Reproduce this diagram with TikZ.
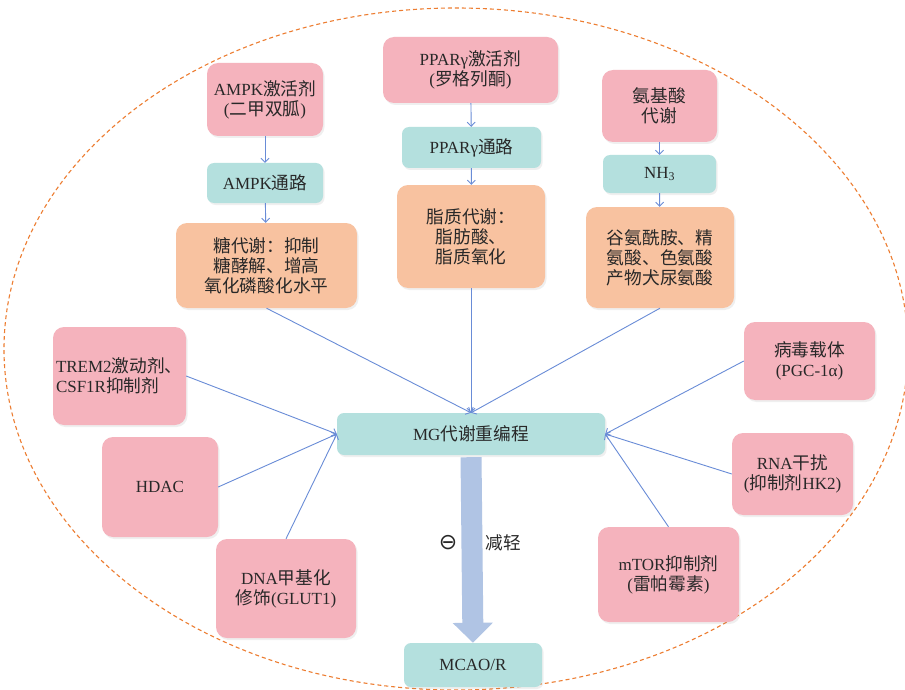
\documentclass[tikz,border=0pt]{standalone}
\usepackage{fontspec}
\setmainfont{Liberation Serif}
\newfontfamily\cjk[Scale=1.04]{Noto Sans CJK SC}
\newfontfamily\symf{DejaVu Sans}
\newcommand{\zh}[1]{{\cjk #1}}
\usetikzlibrary{arrows.meta,shadows}
\definecolor{pinkbox}{RGB}{245,179,189}
\definecolor{tealbox}{RGB}{180,224,222}
\definecolor{orangebox}{RGB}{248,194,160}
\definecolor{linkblue}{RGB}{105,140,215}
\definecolor{bigarrow}{RGB}{176,196,228}
\definecolor{ellorange}{RGB}{237,125,49}
\definecolor{txt}{RGB}{40,40,40}
\tikzset{
  box/.style={rounded corners=11pt, inner sep=2pt, align=center, text=txt,
    font=\fontsize{17}{20}\selectfont,
    drop shadow={opacity=0.12, shadow xshift=1.5pt, shadow yshift=-2pt}},
  pbox/.style={box, fill=pinkbox},
  tbox/.style={box, fill=tealbox, rounded corners=7pt},
  obox/.style={box, fill=orangebox},
  link/.style={draw=linkblue, line width=0.9pt, -{Straight Barb[length=4pt,width=8pt]}},
}
\begin{document}
\begin{tikzpicture}[x=1pt,y=-1pt]
\useasboundingbox (0,0) rectangle (905,690);
\fill[white] (0,0) rectangle (905,690);
\draw[ellorange, line width=1.1pt, dash pattern=on 4pt off 3pt] (456,349) ellipse [x radius=452pt, y radius=341pt];

% top column nodes
\node[pbox, minimum width=116pt, minimum height=73pt] (ampk) at (265,99.5) {AMPK\zh{激活剂}\\(\zh{二甲双胍})};
\node[tbox, minimum width=116pt, minimum height=40pt] (ampkp) at (265,183) {AMPK\zh{通路}};
\node[obox, minimum width=181pt, minimum height=85pt] (tang) at (266.5,265.5) {\zh{糖代谢：抑制}\\\zh{糖酵解、增高}\\\zh{氧化磷酸化水平}};

\node[pbox, minimum width=175pt, minimum height=66pt] (ppar) at (470.5,70) {PPARγ\zh{激活剂}\\(\zh{罗格列酮})};
\node[tbox, minimum width=139pt, minimum height=41pt] (pparp) at (471.5,147.5) {PPARγ\zh{通路}};
\node[obox, minimum width=148pt, minimum height=103pt] (zhi) at (471,236.5) {\zh{脂质代谢：}\\\zh{脂肪酸、}\\\zh{脂质氧化}};

\node[pbox, minimum width=115pt, minimum height=72pt] (anji) at (659.5,106) {\zh{氨基酸}\\\zh{代谢}};
\node[tbox, minimum width=113pt, minimum height=38pt] (nh3) at (659.5,174) {NH\textsubscript{3}};
\node[obox, minimum width=148pt, minimum height=101pt] (gu) at (660,257.5) {\zh{谷氨酰胺、精}\\\zh{氨酸、色氨酸}\\\zh{产物犬尿氨酸}};

% side nodes
\node[pbox, minimum width=133pt, minimum height=98pt, align=left, text width=127pt] (trem) at (119.5,376) {TREM2\zh{激动剂、}\\CSF1R\zh{抑制剂}};
\node[pbox, minimum width=116pt, minimum height=100pt] (hdac) at (160,487) {HDAC};
\node[pbox, minimum width=140pt, minimum height=99pt] (dna) at (286,588.5) {DNA\zh{甲基化}\\\zh{修饰}(GLUT1)};

\node[pbox, minimum width=131pt, minimum height=78pt] (bing) at (809.5,361) {\zh{病毒载体}\\(PGC-1α)};
\node[pbox, minimum width=121pt, minimum height=82pt] (rna) at (792.5,474) {RNA\zh{干扰}\\(\zh{抑制剂}HK2)};
\node[pbox, minimum width=141pt, minimum height=95pt] (mtor) at (668.5,574.5) {mTOR\zh{抑制剂}\\(\zh{雷帕霉素})};

% center
\node[tbox, minimum width=268pt, minimum height=42pt] (mg) at (471,434) {MG\zh{代谢重编程}};
\node[tbox, minimum width=138pt, minimum height=44pt] (mcao) at (473,665) {MCAO/R};

% vertical links
\draw[link] (ampk) -- (ampkp);
\draw[link] (ampkp) -- (tang);
\draw[link] (ppar) -- (pparp);
\draw[link] (pparp) -- (zhi);
\draw[link] (anji) -- (nh3);
\draw[link] (nh3) -- (gu);

% links to MG
\draw[link] (tang.south) -- (mg.north);
\draw[link] (zhi.south) -- (mg.north);
\draw[link] (gu.south) -- (mg.north);
\draw[link] (trem.east) -- (mg.west);
\draw[link] (hdac.east) -- (mg.west);
\draw[link] (dna.north) -- (mg.west);
\draw[link] (bing.west) -- (mg.east);
\draw[link] (rna.west) -- (mg.east);
\draw[link] (mtor.north) -- (mg.east);

% big arrow
\draw[bigarrow, line width=21pt, shorten <=2pt, -{Triangle[length=20pt,width=39pt]}] (mg.south) -- (mcao.north);
\node[text=txt, font=\symf\fontsize{22}{22}\selectfont, inner sep=0pt] (minus) at (448,543) {⊖};
\node[text=txt, font=\fontsize{17}{18}\selectfont, inner sep=0pt] (jian) at (503,543) {\zh{减轻}};
\end{tikzpicture}
\end{document}
